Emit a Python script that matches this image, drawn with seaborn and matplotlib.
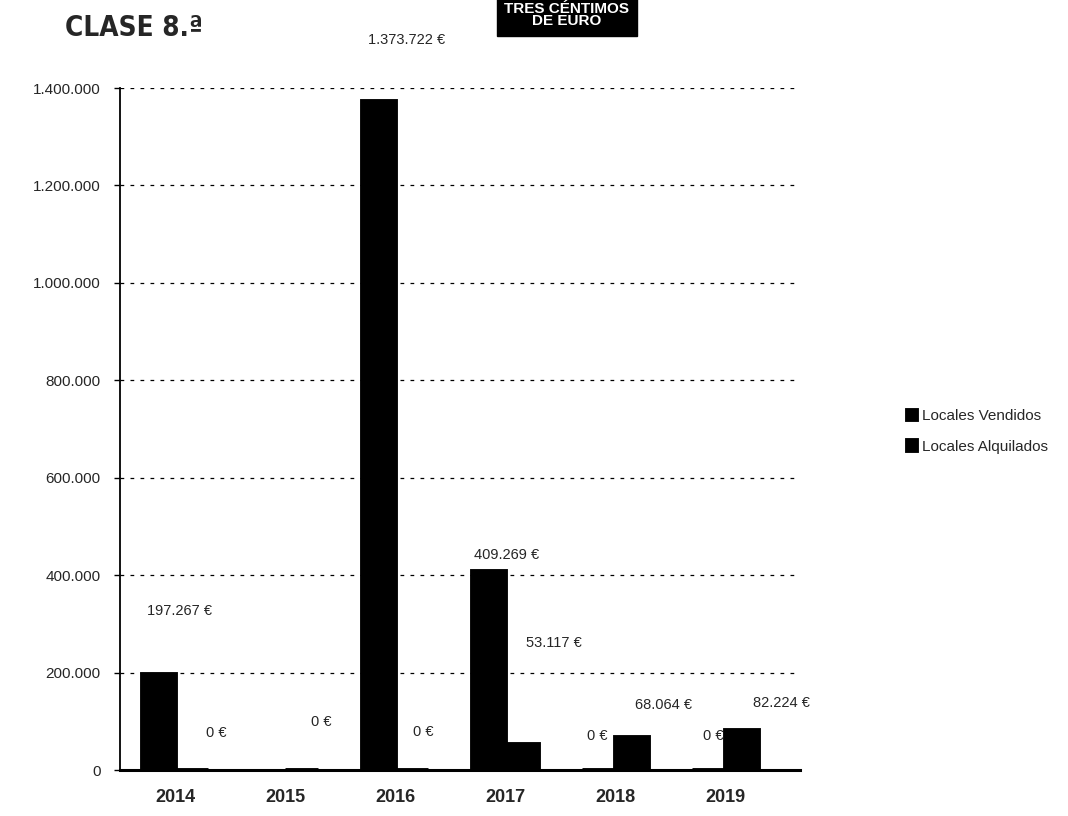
import numpy as np
import pandas as pd
import matplotlib
matplotlib.use("Agg")
import matplotlib.pyplot as plt
import seaborn as sns

# Importes anuales por tipo de operación (euros)
years = ["2014", "2015", "2016", "2017", "2018", "2019"]
vendidos = [197267, np.nan, 1373722, 409269, 0, 0]
alquilados = [0, 0, 0, 53117, 68064, 82224]
series_names = ["Locales Vendidos", "Locales Alquilados"]
y_ticks = [0, 200000, 400000, 600000, 800000, 1000000, 1200000, 1400000]

sns.set_theme(style="white")
plt.rcParams["font.family"] = ["Liberation Sans", "DejaVu Sans"]

df = pd.DataFrame({
    "Año": years * 2,
    "Serie": [series_names[0]] * len(years) + [series_names[1]] * len(years),
    "Importe": vendidos + alquilados,
})

W, H = 1068, 816
fig = plt.figure(figsize=(W / 100, H / 100), dpi=100)
ax = fig.add_axes([120 / W, 1 - 770 / H, (800 - 120) / W, (770 - 88) / H])

sns.barplot(data=df, x="Año", y="Importe", hue="Serie", hue_order=series_names,
            palette=["black", "black"], width=0.6, errorbar=None,
            edgecolor="black", linewidth=3.5, ax=ax)

ax.set_ylim(0, 1400000)
ax.set_xlim(-0.5, 5.68)
ax.set_yticks(y_ticks)
ax.set_yticklabels([f"{v:,.0f}".replace(",", ".") for v in y_ticks], fontsize=11)
ax.set_xlabel("")
ax.set_ylabel("")
for lab in ax.get_xticklabels():
    lab.set_fontweight("bold")
    lab.set_fontsize(13)
ax.tick_params(axis="x", length=0, pad=14)
ax.tick_params(axis="y", left=True, length=4, width=1, color="black", pad=10)

ax.yaxis.grid(True, linestyle=(0, (3, 5)), color="black", linewidth=0.9)
ax.set_axisbelow(True)
for side in ("top", "right"):
    ax.spines[side].set_visible(False)
ax.spines["left"].set_color("black")
ax.spines["left"].set_linewidth(1.3)
ax.spines["bottom"].set_color("black")
ax.spines["bottom"].set_linewidth(2.2)

# Etiquetas de valor: desplazamiento (px) de cada etiqueta respecto a la cima de su barra
label_shift = {
    (0, "2014"): (21, 63), (1, "2014"): (25, 37),
    (1, "2015"): (20, 48),
    (0, "2016"): (28, 61), (1, "2016"): (12, 38),
    (0, "2017"): (18, 16), (1, "2017"): (32, 101),
    (0, "2018"): (-1, 34), (1, "2018"): (32, 32),
    (0, "2019"): (5, 34), (1, "2019"): (40, 27),
}
for s_idx, cont in enumerate(ax.containers):
    for bar in cont:
        xc = bar.get_x() + bar.get_width() / 2
        val = bar.get_height()
        if np.isnan(val):
            continue
        year = years[int(round(xc))]
        dx, dy = label_shift.get((s_idx, year), (0, 20))
        ax.annotate(f"{val:,.0f} €".replace(",", "."), xy=(xc, val),
                    xytext=(dx, dy), textcoords="offset pixels",
                    ha="center", va="center", fontsize=10.5,
                    annotation_clip=False)

# Leyenda a la derecha
handles, labels = ax.get_legend_handles_labels()
ax.legend(handles, labels, loc="upper left", frameon=False,
          bbox_to_anchor=(893 / W, 1 - 395 / H), bbox_transform=fig.transFigure,
          handlelength=0.6, handleheight=0.6, handletextpad=0.4,
          labelspacing=1.1, fontsize=11)

# Encabezado del papel timbrado
fig.text(65 / W, 1 - 28 / H, "CLASE 8.ª", fontsize=20, fontweight="bold",
         family=["Liberation Sans Narrow", "DejaVu Sans"], fontstretch="condensed",
         ha="left", va="center")
fig.text(567 / W, 1 - 15 / H, "TRES CÉNTIMOS\nDE EURO", color="white",
         fontsize=11, fontweight="bold", ha="center", va="center", linespacing=0.85,
         bbox=dict(boxstyle="square,pad=0.5", facecolor="black", edgecolor="black"))

fig.savefig("out.png", dpi=100, facecolor="white")
